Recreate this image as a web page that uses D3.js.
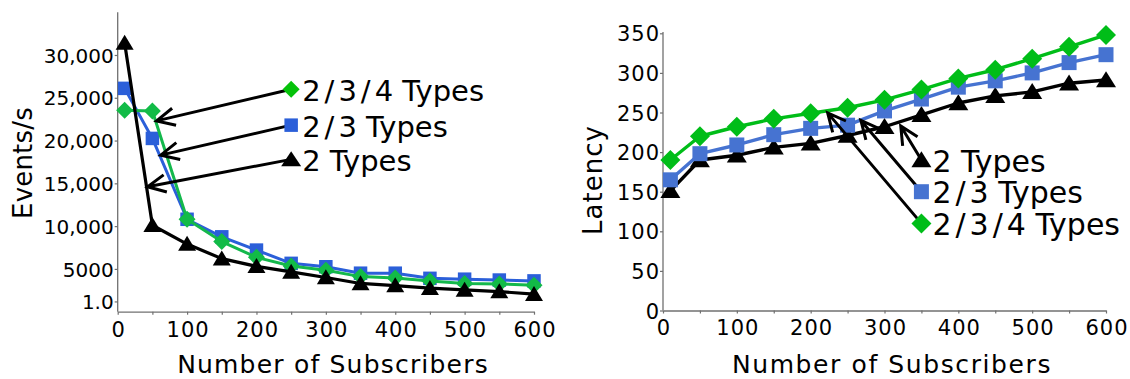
<!DOCTYPE html>
<html>
<head>
<meta charset="utf-8">
<script src="https://cdn.jsdelivr.net/npm/d3@7"></script>
<style>
  body { margin: 0; background: #fff; }
  svg { display: block; }
  text { font-family: "DejaVu Sans", sans-serif; fill: #000; }
</style>
</head>
<body>
<svg id="chart" width="1130" height="379"></svg>
<script>
// ---- data ----
const subscribers = [10, 50, 100, 150, 200, 250, 300, 350, 400, 450, 500, 550, 600];

// throughput (events per second)
const eventsTwoTypes          = [31400, 10100, 7900, 6200, 5300, 4650, 4000, 3300, 3050, 2750, 2550, 2350, 2050];
const eventsTwoThreeTypes     = [26100, 20250, 10800, 8750, 7200, 5650, 5250, 4500, 4500, 3900, 3800, 3700, 3600];
const eventsTwoThreeFourTypes = [23550, 23450, 10800, 8200, 6350, 5350, 4850, 4100, 3950, 3600, 3300, 3250, 3100];

// latency
const latencyTwoTypes          = [151, 190, 196, 206, 211, 221, 232, 247, 262, 271, 276, 287, 291];
const latencyTwoThreeTypes     = [165, 198, 209, 222, 230, 234, 252, 267, 282, 290, 300, 313, 323];
const latencyTwoThreeFourTypes = [190, 220, 232, 242, 249, 256, 266, 279, 293, 304, 318, 333, 348];

// tick values and labels
const subscriberTicks   = [0, 50, 100, 150, 200, 250, 300, 350, 400, 450, 500, 550, 600];
const eventTickValues   = [1200, 5000, 10000, 15000, 20000, 25000, 30000];
const eventTickLabels   = ["1.0", "5000", "10,000", "15,000", "20,000", "25,000", "30,000"];
const latencyTickValues = [0, 50, 100, 150, 200, 250, 300, 350];

const seriesNames = ["2 Types", "2/3 Types", "2/3/4 Types"];

// ---- drawing helpers ----
const svg = d3.select("#chart");

function markerPath(shape, size) {
  if (shape === "diamond") {
    const r = size.r;
    return `M0,${-r}L${r},0L0,${r}L${-r},0Z`;
  }
  if (shape === "square") {
    const h = size.s / 2;
    return `M${-h},${-h}H${h}V${h}H${-h}Z`;
  }
  // triangle
  const w = size.w / 2, h = size.h;
  return `M0,${-h * 0.55}L${w},${h * 0.45}L${-w},${h * 0.45}Z`;
}

// label with a little air around the slashes
function spacedLabel(sel, label) {
  const parts = label.split(/(\/)/);
  parts.forEach((p, i) => {
    const t = sel.append("tspan").text(p);
    if (i > 0) t.attr("dx", 4);
  });
}

function arrow(g, x1, y1, x2, y2) {
  const a = Math.atan2(y1 - y2, x1 - x2);
  const L = 20, spread = 0.45;
  const w1 = [x2 + L * Math.cos(a + spread), y2 + L * Math.sin(a + spread)];
  const w2 = [x2 + L * Math.cos(a - spread), y2 + L * Math.sin(a - spread)];
  g.append("path")
    .attr("d", `M${x1},${y1}L${x2},${y2}M${w1[0]},${w1[1]}L${x2},${y2}L${w2[0]},${w2[1]}`)
    .attr("fill", "none")
    .attr("stroke", "#000")
    .attr("stroke-width", 3)
    .attr("stroke-linejoin", "miter");
}

function drawPanel(cfg) {
  const g = svg.append("g");
  const x = d3.scaleLinear().domain([0, 600]).range(cfg.xRange);
  const y = d3.scaleLinear().domain(cfg.yDomain).range(cfg.yRange);

  // axes
  const xAxis = d3.axisBottom(x)
    .tickValues(subscriberTicks)
    .tickSize(3)
    .tickSizeOuter(0)
    .tickFormat(d => (d % 100 === 0 ? d : ""));
  const gx = g.append("g").attr("transform", `translate(0,${cfg.yRange[0]})`).call(xAxis);

  const yAxis = d3.axisLeft(y)
    .tickValues(cfg.yTicks)
    .tickSize(3)
    .tickSizeOuter(0)
    .tickFormat((d, i) => cfg.yLabels[i]);
  const gy = g.append("g").attr("transform", `translate(${cfg.xRange[0]},0)`).call(yAxis);

  [gx, gy].forEach(a => {
    a.select(".domain").attr("stroke", "#707070").attr("stroke-width", 1.3);
    a.selectAll(".tick line").attr("stroke", "#707070").attr("stroke-width", 1.2);
    a.selectAll(".tick text").attr("font-family", "DejaVu Sans").attr("fill", "#000");
  });
  gx.selectAll(".tick text")
    .attr("font-size", 21).attr("letter-spacing", 1)
    .attr("y", 10).attr("dy", "0.71em").attr("dx", 0.5);
  gy.selectAll(".tick text")
    .attr("font-size", cfg.yTickFont).attr("letter-spacing", cfg.yTickSpacing)
    .attr("x", -cfg.yTickGap).attr("dy", "0.36em");
  // the y axis line starts at the top of the plot frame
  gy.select(".domain").attr("d", `M0,${cfg.yRange[0]}V${cfg.yTop}`);

  // axis titles
  g.append("text")
    .attr("x", cfg.xTitlePos[0]).attr("y", cfg.xTitlePos[1])
    .attr("text-anchor", "middle")
    .attr("font-size", 25).attr("letter-spacing", cfg.xTitleSpacing)
    .text("Number of Subscribers");
  g.append("text")
    .attr("transform", `translate(${cfg.yTitlePos[0]},${cfg.yTitlePos[1]}) rotate(-90)`)
    .attr("text-anchor", "middle")
    .attr("font-size", 26).attr("letter-spacing", cfg.yTitleSpacing)
    .text(cfg.yTitle);

  // series
  const line = d3.line().x((d, i) => x(subscribers[i])).y(d => y(d));
  cfg.series.forEach(s => {
    g.append("path")
      .datum(s.values)
      .attr("d", line)
      .attr("fill", "none")
      .attr("stroke", s.lineColor)
      .attr("stroke-width", s.lineWidth)
      .attr("stroke-linejoin", "round");
    g.selectAll(null)
      .data(s.values)
      .enter().append("path")
      .attr("transform", (d, i) => `translate(${x(subscribers[i])},${y(d)})`)
      .attr("d", markerPath(s.shape, s.size))
      .attr("fill", s.markerColor);
  });

  // callouts: arrow from legend entry to its curve
  cfg.callouts.forEach(c => {
    arrow(g, x(c.at[0]), y(c.at[1]), x(c.tip[0]), y(c.tip[1]));
  });
  cfg.callouts.forEach(c => {
    const s = cfg.series.find(d => d.name === c.name);
    const px = x(c.at[0]), py = y(c.at[1]);
    g.append("path")
      .attr("transform", `translate(${px},${py})`)
      .attr("d", markerPath(s.shape, s.legendSize || s.size))
      .attr("fill", s.legendColor || s.markerColor);
    g.append("text")
      .attr("x", px + cfg.legendDx).attr("y", py + cfg.legendDy)
      .attr("font-size", cfg.legendFont)
      .call(spacedLabel, c.name);
  });
}

// ---- left panel: throughput ----
drawPanel({
  xRange: [117.7, 534],
  yDomain: [0, 35000],
  yRange: [311.7, 12.2],
  yTop: 12.2,
  yTicks: eventTickValues,
  yLabels: eventTickLabels,
  yTickFont: 20, yTickSpacing: 0, yTickGap: 4,
  yTitle: "Events/s",
  yTitlePos: [32, 163], yTitleSpacing: 0.2,
  xTitlePos: [333, 373], xTitleSpacing: 1.2,
  legendDx: 11, legendDy: 12, legendFont: 29,
  series: [
    { name: seriesNames[1], values: eventsTwoThreeTypes, shape: "square", size: { s: 13.5 },
      lineColor: "#2b5fd9", markerColor: "#2b5fd9", lineWidth: 3 },
    { name: seriesNames[2], values: eventsTwoThreeFourTypes, shape: "diamond", size: { r: 8.5 },
      lineColor: "#14b84c", markerColor: "#12bb47", legendColor: "#05c20a", lineWidth: 3 },
    { name: seriesNames[0], values: eventsTwoTypes, shape: "triangle", size: { w: 18, h: 15 },
      legendSize: { w: 20, h: 15 },
      lineColor: "#000", markerColor: "#000", lineWidth: 3.2 }
  ],
  callouts: [
    { name: seriesNames[2], at: [250, 26000], tip: [56, 22300] },
    { name: seriesNames[1], at: [250, 21800], tip: [62, 18300] },
    { name: seriesNames[0], at: [250, 17800], tip: [43, 14600] }
  ]
});

// ---- right panel: latency ----
drawPanel({
  xRange: [663, 1106],
  yDomain: [0, 350],
  yRange: [310.5, 33.3],
  yTop: 32,
  yTicks: latencyTickValues,
  yLabels: latencyTickValues.map(String),
  yTickFont: 21, yTickSpacing: 1, yTickGap: 3,
  yTitle: "Latency",
  yTitlePos: [602, 180], yTitleSpacing: 1,
  xTitlePos: [892, 373.3], xTitleSpacing: 1.6,
  legendDx: 11, legendDy: 11.5, legendFont: 30,
  series: [
    { name: seriesNames[0], values: latencyTwoTypes, shape: "triangle", size: { w: 20, h: 16 },
      lineColor: "#000", markerColor: "#000", lineWidth: 3.4 },
    { name: seriesNames[1], values: latencyTwoThreeTypes, shape: "square", size: { s: 15 },
      lineColor: "#4673d1", markerColor: "#4673d1", lineWidth: 3.4 },
    { name: seriesNames[2], values: latencyTwoThreeFourTypes, shape: "diamond", size: { r: 10 },
      lineColor: "#00bd18", markerColor: "#00bd18", lineWidth: 3.4 }
  ],
  callouts: [
    { name: seriesNames[0], at: [350, 190], tip: [322, 233] },
    { name: seriesNames[1], at: [350, 150], tip: [268, 240] },
    { name: seriesNames[2], at: [350, 110], tip: [223, 249.5] }
  ]
});
</script>
</body>
</html>
